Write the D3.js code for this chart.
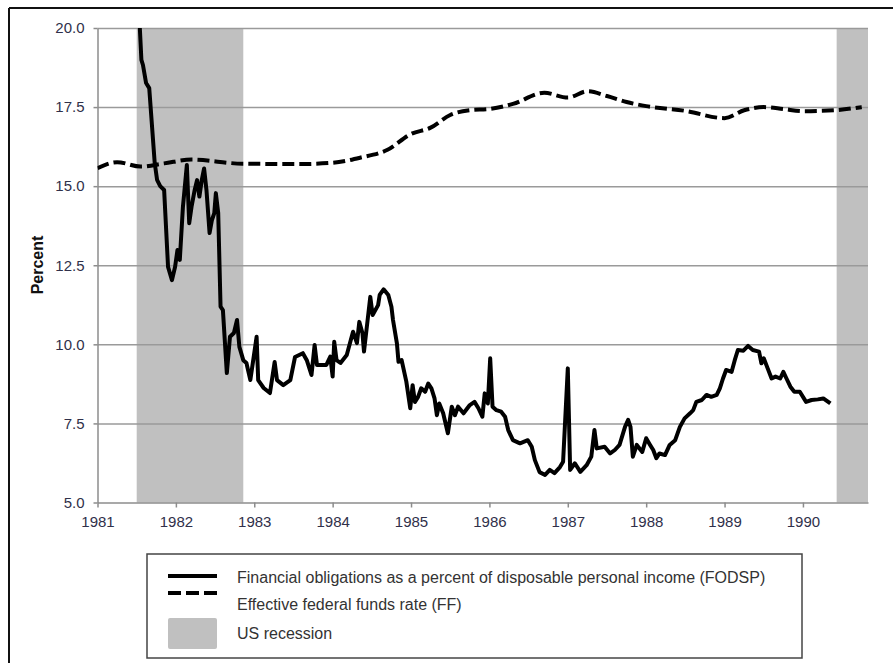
<!DOCTYPE html>
<meta charset="utf-8">
<title>FODSP vs FF</title>
<style>
body { margin: 0; background: #fff; }
svg { display: block; font-family: "Liberation Sans", Arial, sans-serif; }
.grid line { stroke: #9a9a9a; stroke-width: 1.5px; }
.grid path { display: none; }
.axis path, .axis line { stroke: #8c8c8c; stroke-width: 1.5px; }
.axis text { fill: #30304a; font-size: 15px; }
</style>
<svg width="893" height="663"></svg>
<script src="https://d3js.org/d3.v7.min.js"></script>
<script>
// decimal years and percent
var fodYears = [
	1981.54, 1981.56, 1981.58, 1981.62, 1981.66, 1981.73, 1981.76, 1981.80, 1981.85, 1981.90, 1981.95, 1981.99,
	1982.02, 1982.05, 1982.09, 1982.14, 1982.17, 1982.20, 1982.24, 1982.27, 1982.30, 1982.33, 1982.36, 1982.39, 1982.43, 1982.46,
	1982.49, 1982.51, 1982.54, 1982.57, 1982.60, 1982.65, 1982.69, 1982.74, 1982.78, 1982.81, 1982.86, 1982.90, 1982.95,
	1983.03, 1983.05, 1983.12, 1983.20, 1983.26, 1983.29, 1983.37, 1983.46, 1983.52, 1983.62, 1983.67, 1983.73, 1983.77, 1983.80,
	1983.86, 1983.92, 1983.97,
	1984.00, 1984.02, 1984.05, 1984.10, 1984.18, 1984.26, 1984.31, 1984.34, 1984.38, 1984.40, 1984.48, 1984.51, 1984.58, 1984.60,
	1984.65, 1984.71, 1984.75, 1984.77, 1984.82, 1984.84, 1984.88, 1984.94, 1984.99,
	1985.02, 1985.05, 1985.09, 1985.13, 1985.18, 1985.22, 1985.26, 1985.30, 1985.33, 1985.36, 1985.41, 1985.47, 1985.52, 1985.56,
	1985.60, 1985.67, 1985.75, 1985.81, 1985.86, 1985.91, 1985.94, 1985.98,
	1986.01, 1986.04, 1986.09, 1986.15, 1986.20, 1986.24, 1986.30, 1986.39, 1986.49, 1986.54, 1986.58, 1986.64, 1986.71, 1986.77,
	1986.83, 1986.90, 1986.94,
	1987.00, 1987.03, 1987.09, 1987.16, 1987.24, 1987.30, 1987.34, 1987.37, 1987.47, 1987.54, 1987.60, 1987.66, 1987.73, 1987.77,
	1987.80, 1987.83, 1987.88, 1987.95,
	1988.00, 1988.05, 1988.09, 1988.13, 1988.17, 1988.24, 1988.30, 1988.37, 1988.43, 1988.49, 1988.56, 1988.60, 1988.64, 1988.71,
	1988.77, 1988.83, 1988.90, 1988.94, 1988.98,
	1989.02, 1989.09, 1989.13, 1989.17, 1989.24, 1989.30, 1989.36, 1989.44, 1989.47, 1989.50, 1989.55, 1989.60, 1989.65, 1989.71,
	1989.75, 1989.79, 1989.84, 1989.89, 1989.96,
	1990.04, 1990.11, 1990.19, 1990.26, 1990.30, 1990.35
]
var fodValues = [
	20.00, 18.99, 18.83, 18.26, 18.10, 15.73, 15.20, 15.00, 14.88, 12.45, 12.03, 12.45,
	12.98, 12.67, 14.35, 15.67, 13.83, 14.35, 14.88, 15.19, 14.67, 15.19, 15.56, 14.88, 13.52, 13.93,
	14.15, 14.78, 14.15, 11.19, 11.08, 9.09, 10.24, 10.36, 10.77, 9.92, 9.50, 9.41, 8.87,
	10.24, 8.87, 8.62, 8.46, 9.44, 8.87, 8.71, 8.87, 9.60, 9.72, 9.50, 9.03, 9.98, 9.35,
	9.35, 9.35, 9.61,
	8.98, 10.08, 9.50, 9.41, 9.66, 10.40, 10.04, 10.71, 10.36, 9.77, 11.50, 10.93, 11.24, 11.56,
	11.74, 11.56, 11.19, 10.77, 10.03, 9.45, 9.50, 8.82, 7.98,
	8.71, 8.18, 8.34, 8.61, 8.50, 8.76, 8.61, 8.29, 7.76, 8.13, 7.82, 7.19, 8.03, 7.76,
	8.03, 7.82, 8.08, 8.18, 7.98, 7.71, 8.45, 8.13,
	9.56, 8.03, 7.92, 7.87, 7.71, 7.29, 6.97, 6.87, 6.97, 6.76, 6.34, 5.96, 5.87, 6.03,
	5.93, 6.12, 6.29,
	9.24, 6.03, 6.24, 5.97, 6.18, 6.45, 7.29, 6.71, 6.76, 6.55, 6.66, 6.82, 7.39, 7.61,
	7.39, 6.45, 6.82, 6.60,
	7.03, 6.82, 6.66, 6.40, 6.55, 6.50, 6.82, 6.97, 7.39, 7.66, 7.82, 7.92, 8.18, 8.24,
	8.40, 8.34, 8.40, 8.61, 8.92,
	9.19, 9.13, 9.50, 9.82, 9.80, 9.95, 9.82, 9.77, 9.40, 9.56, 9.24, 8.92, 8.98, 8.92,
	9.13, 8.92, 8.66, 8.50, 8.50,
	8.18, 8.24, 8.26, 8.29, 8.22, 8.13
]

var ffYears = [1981.00, 1981.25, 1981.55, 1981.85, 1982.20, 1982.85, 1983.60, 1984.00, 1984.35, 1984.70,
	1985.00, 1985.25, 1985.50, 1985.75, 1986.00, 1986.30, 1986.70, 1987.00, 1987.25, 1987.50,
	1987.75, 1988.00, 1988.50, 1989.00, 1989.25, 1989.50, 1989.75, 1990.00, 1990.40, 1990.75]
var ffValues = [15.57, 15.76, 15.62, 15.72, 15.84, 15.71, 15.70, 15.74, 15.90, 16.15,
	16.65, 16.85, 17.25, 17.40, 17.44, 17.60, 17.95, 17.80, 18.00, 17.85,
	17.66, 17.53, 17.38, 17.15, 17.40, 17.50, 17.44, 17.37, 17.40, 17.50]

var recessionStarts = [1981.50, 1990.43]
var recessionEnds = [1982.86, 1990.83]

var xTicks = [1981, 1982, 1983, 1984, 1985, 1986, 1987, 1988, 1989, 1990]
var yTicks = [5, 7.5, 10, 12.5, 15, 17.5, 20]

var legendLabels = [
	"Financial obligations as a percent of disposable personal income (FODSP)",
	"Effective federal funds rate (FF)",
	"US recession"
]

var svg = d3.select("svg")

var x = d3.scaleLinear().domain([1981, 1990.83]).range([97.5, 868])
var y = d3.scaleLinear().domain([5, 20]).range([502.5, 28])

// outer frame (only left and top edges show)
svg.append("line").attr("x1", 9).attr("y1", 8).attr("x2", 893).attr("y2", 8)
	.attr("stroke", "#111").attr("stroke-width", 2)
svg.append("line").attr("x1", 9).attr("y1", 8).attr("x2", 9).attr("y2", 663)
	.attr("stroke", "#111").attr("stroke-width", 2)

// recession bands
svg.append("g").selectAll("rect")
	.data(recessionStarts)
	.enter().append("rect")
		.attr("x", function(d) { return x(d) })
		.attr("y", y(20))
		.attr("width", function(d, i) { return x(recessionEnds[i]) - x(d) })
		.attr("height", y(5) - y(20))
		.attr("fill", "#c0c0c0")

// gridlines
svg.append("g")
	.attr("class", "grid")
	.attr("transform", "translate(" + x.range()[0] + ",0)")
	.call(d3.axisLeft(y).tickValues(yTicks.slice(1)).tickSize(-(x.range()[1] - x.range()[0])).tickFormat(""))

// axes
svg.append("g")
	.attr("class", "axis")
	.attr("transform", "translate(0," + y(5) + ")")
	.call(d3.axisBottom(x).tickValues(xTicks).tickFormat(d3.format("d")).tickSize(5).tickPadding(9).tickSizeOuter(0))

svg.append("g")
	.attr("class", "axis")
	.attr("transform", "translate(" + x.range()[0] + ",0)")
	.call(d3.axisLeft(y).tickValues(yTicks).tickFormat(d3.format(".1f")).tickSize(4).tickPadding(9).tickSizeOuter(0))

svg.append("text")
	.attr("transform", "translate(43,265) rotate(-90)")
	.attr("text-anchor", "middle")
	.attr("font-size", "16px")
	.attr("font-weight", "bold")
	.attr("fill", "#111")
	.text("Percent")

svg.append("clipPath").attr("id", "plot")
	.append("rect").attr("x", x.range()[0]).attr("y", y(20) - 2)
	.attr("width", x.range()[1] - x.range()[0]).attr("height", y(5) - y(20) + 2)

var ffLine = d3.line()
	.x(function(d, i) { return x(ffYears[i]) })
	.y(function(d) { return y(d) })
	.curve(d3.curveMonotoneX)

svg.append("path")
	.datum(ffValues)
	.attr("clip-path", "url(#plot)")
	.attr("d", ffLine)
	.attr("fill", "none")
	.attr("stroke", "#000")
	.attr("stroke-width", 4)
	.attr("stroke-dasharray", "12,5")

var fodLine = d3.line()
	.x(function(d, i) { return x(fodYears[i]) })
	.y(function(d) { return y(d) })

svg.append("path")
	.datum(fodValues)
	.attr("clip-path", "url(#plot)")
	.attr("d", fodLine)
	.attr("fill", "none")
	.attr("stroke", "#000")
	.attr("stroke-width", 4)
	.attr("stroke-linejoin", "round")

// legend
var legend = svg.append("g")
legend.append("rect")
	.attr("x", 147).attr("y", 554).attr("width", 655).attr("height", 104)
	.attr("fill", "#fff").attr("stroke", "#444").attr("stroke-width", 1.5)

legend.append("line").attr("x1", 168).attr("x2", 217).attr("y1", 576).attr("y2", 576)
	.attr("stroke", "#000").attr("stroke-width", 4)
legend.append("line").attr("x1", 168).attr("x2", 217).attr("y1", 593).attr("y2", 593)
	.attr("stroke", "#000").attr("stroke-width", 4).attr("stroke-dasharray", "13,5")
legend.append("rect").attr("x", 168).attr("y", 618).attr("width", 49).attr("height", 31)
	.attr("rx", 2).attr("fill", "#c0c0c0")

var rowY = [577, 604, 633]
legend.selectAll("text.lab")
	.data(legendLabels)
	.enter().append("text")
		.attr("class", "lab")
		.attr("x", 237)
		.attr("y", function(d, i) { return rowY[i] })
		.attr("dy", "0.35em")
		.attr("font-size", "16px")
		.attr("fill", "#333")
		.text(function(d) { return d })
</script>
